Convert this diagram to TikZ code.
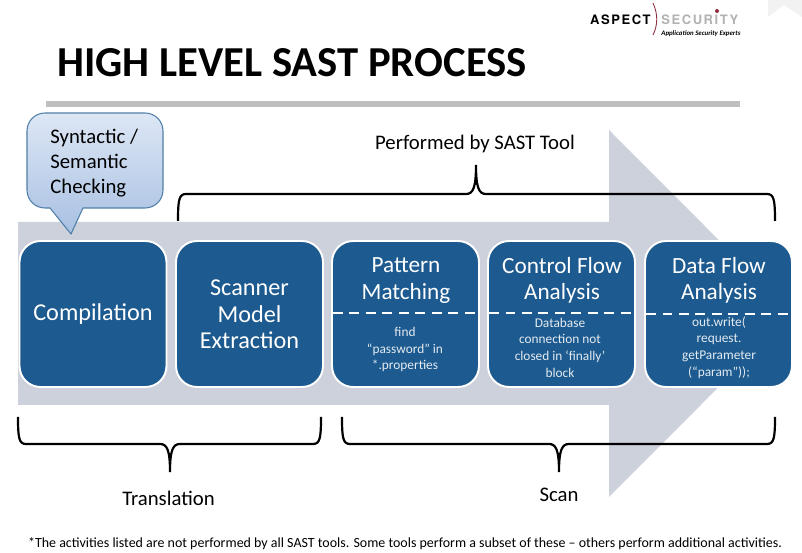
\documentclass[tikz,border=0pt]{standalone}
\usepackage{fontspec}
\setmainfont{Carlito}
\newfontfamily\logofont[LetterSpace=12]{TeX Gyre Heros}
\usepackage{tikz}
\definecolor{boxblue}{HTML}{1C5A8F}
\definecolor{arrowgrey}{HTML}{CDD1DC}
\definecolor{barink}{HTML}{BFBFBF}
\definecolor{logored}{HTML}{8E2F3F}
\definecolor{calloutline}{HTML}{4F7FA8}
\definecolor{callouttop}{HTML}{DDE7F5}
\definecolor{calloutbottom}{HTML}{A8C0E2}
\tikzset{
  stepbox/.style={draw=white,line width=1.1pt,fill=boxblue,rectangle,rounded corners=0.42cm,
    minimum width=2.94cm,minimum height=2.92cm,inner sep=0pt,text=white,align=center,
    font=\fontsize{13.8}{15.1}\selectfont},
  headtext/.style={text=white,align=center,inner sep=0pt,font=\fontsize{13.2}{14.9}\selectfont},
  subtext/.style={text=white!88!boxblue,align=center,inner sep=0pt,font=\fontsize{7.6}{9.5}\selectfont},
  dashline/.style={white,line width=1.4pt,dash pattern=on 0.2cm off 0.13cm},
  bracket/.style={black,line width=1.25pt},
  caption/.style={inner sep=0pt,font=\fontsize{11.8}{14}\selectfont}
}
\begin{document}
\begin{tikzpicture}[x=0.02cm,y=-0.02cm]
\useasboundingbox (0,0) rectangle (802,553);

%arrow behind the boxes
\fill[arrowgrey] (18,222) -- (609,222) -- (609,130) -- (792,313.5) -- (609,497) -- (609,405) -- (18,405) -- cycle;
\fill[black!5] (768,0) -- (802,0) -- (802,17) -- (784,5) -- (768,17) -- cycle;

%title and logo
\node [anchor=west,inner sep=0pt,font=\fontsize{24.3}{28}\selectfont\bfseries] (title) at(57,63){HIGH LEVEL SAST PROCESS};
\fill[barink] (46,101) rectangle (740,107);
\node [anchor=east,inner sep=0pt,font=\logofont\fontsize{7.4}{9}\selectfont\bfseries] (aspect) at(651,19.5){ASPECT};
\node [anchor=west,inner sep=0pt,text=black!30,font=\logofont\fontsize{7.4}{9}\selectfont\bfseries] (security) at(661,19.5){SECURITY};
\node [anchor=west,inner sep=0pt,font=\fontsize{3.9}{5}\selectfont\bfseries\itshape] (tagline) at(661,33.5){Application Security Experts};
\draw[logored,line width=0.5pt] (653,3) .. controls (658,14) and (658,25) .. (653,35);
\fill[logored] (717,11) circle (2);

%callout
\draw[draw=calloutline,line width=0.6pt,top color=callouttop,bottom color=calloutbottom]
  (45,113) -- (145,113) .. controls (155,113) and (163,121) .. (163,131) -- (163,190)
  .. controls (163,200) and (155,208) .. (145,208) -- (83,208) -- (71,234) -- (50,208) -- (45,208)
  .. controls (35,208) and (27,200) .. (27,190) -- (27,131) .. controls (27,121) and (35,113) .. (45,113) -- cycle;
\node [anchor=west,align=left,inner sep=0pt,font=\fontsize{11.8}{14.2}\selectfont] (check) at(50,163){Syntactic /\\Semantic\\Checking};

%brackets
\draw[bracket] (178,221) .. controls (178,200) and (179,194) .. (186,194) -- (466,194) .. controls (473,194) and (476,188) .. (476,165)
  .. controls (476,188) and (479,194) .. (486,194) -- (767,194) .. controls (774,194) and (775,200) .. (775,221);
\draw[bracket] (18,417) .. controls (18,438) and (19,444) .. (26,444) -- (160,444) .. controls (167,444) and (170,450) .. (170,472)
  .. controls (170,450) and (173,444) .. (180,444) -- (313,444) .. controls (320,444) and (321,438) .. (321,417);
\draw[bracket] (342,417) .. controls (342,438) and (343,444) .. (350,444) -- (549,444) .. controls (556,444) and (559,450) .. (559,472)
  .. controls (559,450) and (562,444) .. (569,444) -- (767,444) .. controls (774,444) and (775,438) .. (775,417);

\node [caption] (tool) at(475,143.5){Performed by SAST Tool};
\node [caption] (translation) at(168.5,498){Translation};
\node [caption] (scan) at(559,495){Scan};

%the five steps
\node [stepbox] (compilation) at(93,314){};
\node [stepbox] (scanner) at(249.5,314){};
\node [stepbox] (pattern) at(405.5,314){};
\node [stepbox] (control) at(561.5,314){};
\node [stepbox] (dataflow) at(718.5,314){};

\node [headtext,font=\fontsize{13.8}{15.1}\selectfont] (compilationh) at(93,314.5){Compilation};
\node [headtext,font=\fontsize{13.8}{15.1}\selectfont] (scannerh) at(249.5,314.5){Scanner\\Model\\Extraction};
\node [headtext] (patternh) at(406,280.5){Pattern\\Matching};
\node [headtext] (controlh) at(562,280.5){Control Flow\\Analysis};
\node [headtext] (dataflowh) at(719,280.5){Data Flow\\Analysis};

\draw[dashline] (333,313) -- (478,313);
\draw[dashline] (489,313) -- (635,313);
\draw[dashline] (646,314) -- (791,314);

\node [subtext] (patterns) at(405,349.5){find\\``password'' in\\*.properties};
\node [subtext] (controls) at(560,347.5){Database\\connection not\\closed in `finally'\\block};
\node [subtext] (dataflows) at(719,347.5){out.write(\\request.\\getParameter\\(``param''));};

\node [inner sep=0pt,font=\fontsize{7.95}{10}\selectfont] (note) at(405,544){*The activities listed are not performed by all SAST tools. Some tools perform a subset of these -- others perform additional activities.};
\end{tikzpicture}
\end{document}
